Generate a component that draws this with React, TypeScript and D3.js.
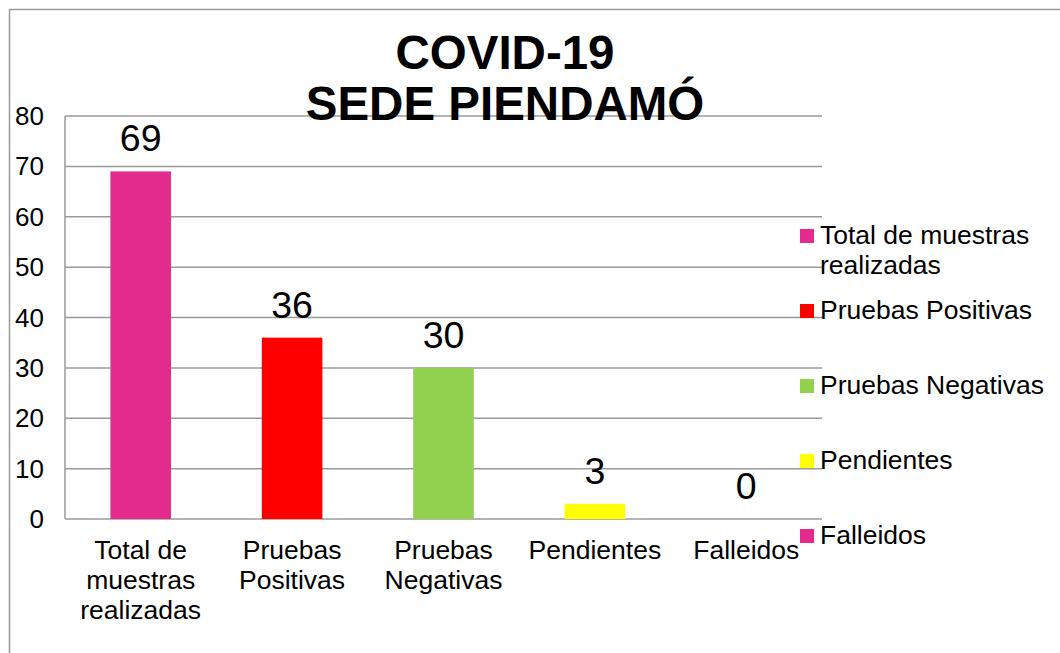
import React from 'react';
import * as d3 from 'd3';

// chart data
const categories = [
  'Total de muestras realizadas',
  'Pruebas Positivas',
  'Pruebas Negativas',
  'Pendientes',
  'Falleidos',
];
const values = [69, 36, 30, 3, 0];
const colors = ['#E32B8E', '#FF0000', '#92D050', '#FFFF00', '#E32B8E'];
// axis label lines as wrapped in the original
const tickLines = [
  ['Total de', 'muestras', 'realizadas'],
  ['Pruebas', 'Positivas'],
  ['Pruebas', 'Negativas'],
  ['Pendientes'],
  ['Falleidos'],
];
const legendLines = [
  ['Total de muestras', 'realizadas'],
  ['Pruebas Positivas'],
  ['Pruebas Negativas'],
  ['Pendientes'],
  ['Falleidos'],
];
const yTicks = [0, 10, 20, 30, 40, 50, 60, 70, 80];
const titleLines = ['COVID-19', 'SEDE PIENDAMÓ'];

const W = 1060;
const H = 653;
const plot = { left: 65, right: 822, top: 116, bottom: 519 };
const FONT = '"Liberation Sans", Arial, sans-serif';

const App: React.FC = () => {
  const x = d3.scaleBand<string>()
    .domain(categories)
    .range([plot.left, plot.right])
    .paddingInner(0.6)
    .paddingOuter(0.3);

  const y = d3.scaleLinear()
    .domain([0, 80])
    .range([plot.bottom, plot.top]);

  const grid = '#9a9a9a';
  const cx = (c: string) => (x(c) || 0) + x.bandwidth() / 2;

  return (
    <svg
      width={W}
      height={H}
      style={{ position: 'absolute', left: 0, top: 0, fontFamily: FONT }}
    >
      <rect x={0} y={0} width={W} height={H} fill="#fff" />
      {/* outer chart border */}
      <rect x={9.5} y={9.5} width={W + 20} height={H + 20} fill="none" stroke={grid} strokeWidth={1.5} />

      {/* gridlines */}
      {yTicks.map(t => (
        <line key={t} x1={plot.left} x2={plot.right} y1={y(t)} y2={y(t)} stroke={grid} strokeWidth={1.5} />
      ))}
      <line x1={plot.left} x2={plot.left} y1={plot.top} y2={plot.bottom} stroke={grid} strokeWidth={1.5} />

      {/* y tick labels */}
      {yTicks.map(t => (
        <text key={`yl-${t}`} x={44} y={y(t)} dy="0.35em" textAnchor="end" fontSize={26} fill="#000">
          {t}
        </text>
      ))}

      {/* bars */}
      {categories.map((c, i) => (
        <rect
          key={c}
          x={x(c)}
          y={y(values[i])}
          width={x.bandwidth()}
          height={plot.bottom - y(values[i])}
          fill={colors[i]}
        />
      ))}

      {/* data labels */}
      {categories.map((c, i) => (
        <text key={`dl-${c}`} x={cx(c)} y={y(values[i]) - 20} textAnchor="middle" fontSize={37.5} fill="#000">
          {values[i]}
        </text>
      ))}

      {/* category labels */}
      {categories.map((c, i) => (
        <text key={`cl-${c}`} x={cx(c)} y={559} textAnchor="middle" fontSize={26.5} fill="#000">
          {tickLines[i].map((l, j) => (
            <tspan key={j} x={cx(c)} dy={j === 0 ? 0 : 30}>{l}</tspan>
          ))}
        </text>
      ))}

      {/* title */}
      <text x={505} y={69} textAnchor="middle" fontSize={47.5} fontWeight="bold" fill="#000">
        {titleLines.map((l, j) => (
          <tspan key={j} x={505} dy={j === 0 ? 0 : 51}>{l}</tspan>
        ))}
      </text>

      {/* legend */}
      {categories.map((c, i) => {
        const base = 244 + i * 75;
        return (
          <g key={`lg-${c}`}>
            <rect x={800} y={base - 15} width={14} height={14} fill={colors[i]} />
            <text x={820} y={base} fontSize={26.5} fill="#000">
              {legendLines[i].map((l, j) => (
                <tspan key={j} x={820} dy={j === 0 ? 0 : 30}>{l}</tspan>
              ))}
            </text>
          </g>
        );
      })}
    </svg>
  );
};

export default App;
